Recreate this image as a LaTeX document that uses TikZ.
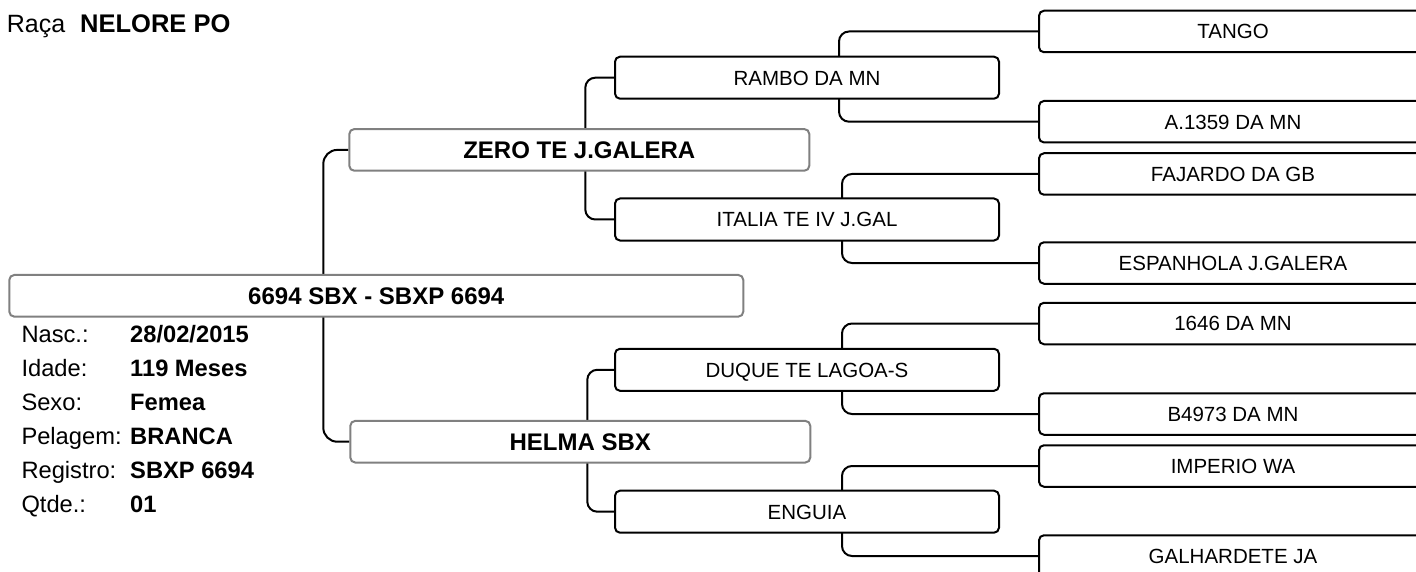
\documentclass[tikz,border=0pt]{standalone}
\usepackage{fontspec}
\setmainfont{Liberation Sans}
\usetikzlibrary{calc}
\pgfdeclarelayer{bg}
\pgfsetlayers{bg,main}
\definecolor{boxgray}{HTML}{808080}
\begin{document}
\begin{tikzpicture}[x=1pt,y=-1pt,
  base/.style={rounded corners=5pt, line width=2pt, fill=white, inner sep=0pt, text depth=0pt},
  g3/.style={base, draw=black, minimum width=388pt, minimum height=41.5pt, font=\fontsize{20.5}{24}\selectfont, text height=14.7pt},
  g2/.style={base, draw=black, minimum width=384pt, minimum height=42pt, font=\fontsize{20.5}{24}\selectfont, text height=14.7pt},
  g1/.style={base, draw=boxgray, minimum width=460pt, minimum height=41.7pt, font=\fontsize{24}{28}\selectfont\bfseries, text height=17.2pt},
  g0/.style={g1, minimum width=734pt},
  link/.style={line width=2pt, rounded corners=10pt},
  info/.style={anchor=base west, inner sep=0pt, font=\fontsize{23.7}{28}\selectfont},
  infob/.style={anchor=base west, inner sep=0pt, font=\fontsize{23.7}{28}\selectfont\bfseries}]
\useasboundingbox (0,0) rectangle (1416,572);
\clip (0,0) rectangle (1416,572);

% title
\node[anchor=base west, inner sep=0pt, font=\fontsize{25}{30}\selectfont] (raca) at (6.7,32.3) {Raça};
\node[anchor=base west, inner sep=0pt, font=\fontsize{25.5}{30}\selectfont\bfseries] (raca v) at (80,32.3) {NELORE PO};

% main animal
\node[g0] (main) at (376.3,295.8) {6694 SBX - SBXP 6694};

% info
\node[info] (l1) at (21.3,342.7) {Nasc.:};
\node[info] (l2) at (21.3,376.6) {Idade:};
\node[info] (l3) at (21.3,410.5) {Sexo:};
\node[info] (l4) at (21.3,444.4) {Pelagem:};
\node[info] (l5) at (21.3,478.3) {Registro:};
\node[info] (l6) at (21.3,512.2) {Qtde.:};
\node[infob] (v1) at (130,342.7) {28/02/2015};
\node[infob] (v2) at (130,376.6) {119 Meses};
\node[infob] (v3) at (130,410.5) {Femea};
\node[infob] (v4) at (130,444.4) {BRANCA};
\node[infob] (v5) at (130,478.3) {SBXP 6694};
\node[infob] (v6) at (130,512.2) {01};

% parents
\node[g1] (zero) at (579.3,149.9) {ZERO TE J.GALERA};
\node[g1] (helma) at (580.3,441.7) {HELMA SBX};

% grandparents
\node[g2] (rambo) at (807,77.7) {RAMBO DA MN};
\node[g2] (italia) at (807,219.5) {ITALIA TE IV J.GAL};
\node[g2] (duque) at (807,369.8) {DUQUE TE LAGOA-S};
\node[g2] (enguia) at (807,511.7) {ENGUIA};

% great-grandparents
\node[g3] (tango) at (1233,31.5) {TANGO};
\node[g3] (a1359) at (1233,121.7) {A.1359 DA MN};
\node[g3] (fajardo) at (1233,174) {FAJARDO DA GB};
\node[g3] (espanhola) at (1233,263) {ESPANHOLA J.GALERA};
\node[g3] (n1646) at (1233,323.5) {1646 DA MN};
\node[g3] (b4973) at (1233,414) {B4973 DA MN};
\node[g3] (imperio) at (1233,466) {IMPERIO WA};
\node[g3] (galhardete) at (1233,556) {GALHARDETE JA};

\begin{pgfonlayer}{bg}
\draw[link, rounded corners=14pt] (zero.west) -| ([xshift=-53pt]main.center) |- (helma.west);
\draw[link] (rambo.west) -| ([xshift=6pt]zero.center) |- (italia.west);
\draw[link] (duque.west) -| ([xshift=7pt]helma.center) |- (enguia.west);
\draw[link] (tango.west) -| ([xshift=32pt]rambo.center) |- (a1359.west);
\draw[link] (fajardo.west) -| ([xshift=35pt]italia.center) |- (espanhola.west);
\draw[link] (n1646.west) -| ([xshift=35pt]duque.center) |- (b4973.west);
\draw[link] (imperio.west) -| ([xshift=35pt]enguia.center) |- (galhardete.west);
\end{pgfonlayer}
\end{tikzpicture}
\end{document}
